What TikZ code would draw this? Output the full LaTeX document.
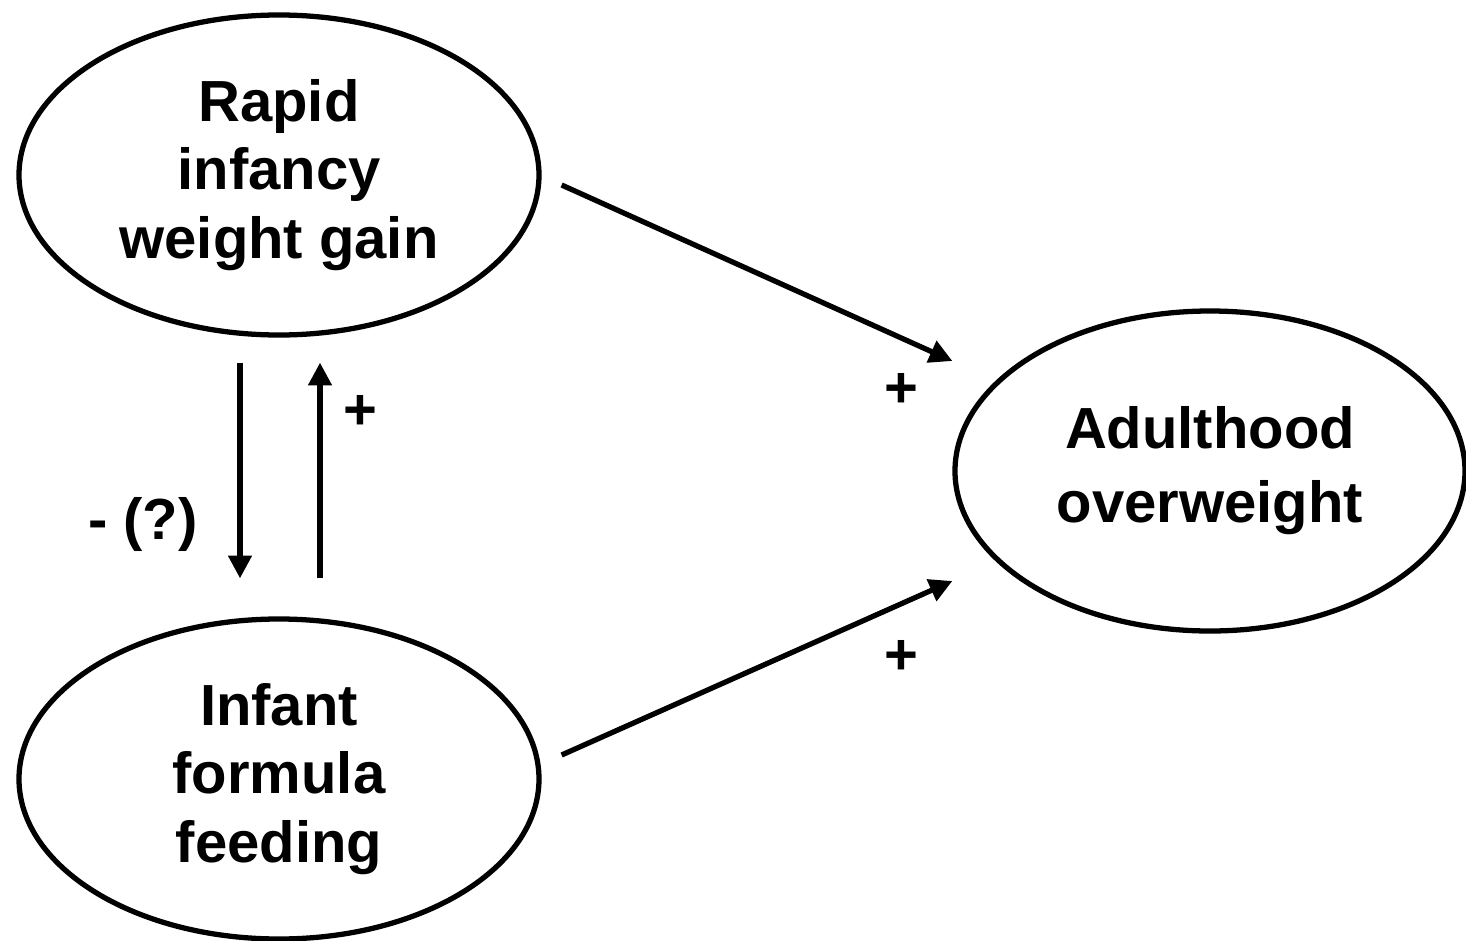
\documentclass[tikz,border=0pt]{standalone}
\usepackage{fontspec}
\setmainfont{Liberation Sans}
\usetikzlibrary{shapes.geometric, positioning, arrows.meta, calc}

\begin{document}
\begin{tikzpicture}[
    factor/.style={ellipse, draw, black, line width=1.5pt, minimum width=5.2cm, minimum height=3.2cm, inner sep=0pt, align=center, font=\fontsize{16.5}{19.5}\selectfont\bfseries},
    link/.style={draw, black, line width=1.5pt, -{Triangle[length=6.5pt, width=6.5pt]}},
    sign/.style={font=\fontsize{16.5}{19.5}\selectfont\bfseries, inner sep=0pt}]

    \useasboundingbox (0,0) rectangle (14.66,-9.41);

    % The three factors
    \node[factor] (rapid) at (2.79,-1.75) {Rapid\\infancy\\weight gain};
    \node[factor] (formula) at (2.79,-7.79) {Infant\\formula\\feeding};
    \node[factor, minimum width=5.1cm, font=\fontsize{16.5}{21}\selectfont\bfseries] (adult) at (12.10,-4.71) {Adulthood\\overweight};

    % Effects on adulthood overweight
    \draw[link] ([xshift=0.2cm, yshift=-0.1cm]rapid.east) -- ([yshift=1.1cm]adult.west)
        node[sign, pos=0.87, yshift=-0.52cm] {+};
    \draw[link] ([xshift=0.2cm, yshift=0.24cm]formula.east) -- ([yshift=-1.1cm]adult.west)
        node[sign, pos=0.87, yshift=-0.54cm] {+};

    % Links between the two infancy factors
    \draw[link] ([xshift=-0.39cm, yshift=-0.25cm]rapid.south) -- ([xshift=-0.39cm, yshift=0.38cm]formula.north)
        node[sign, pos=0.75, xshift=-0.97cm] {- (?)};
    \draw[link] ([xshift=0.41cm, yshift=0.38cm]formula.north) -- ([xshift=0.41cm, yshift=-0.25cm]rapid.south)
        node[sign, pos=0.77, xshift=0.4cm] {+};

\end{tikzpicture}
\end{document}
